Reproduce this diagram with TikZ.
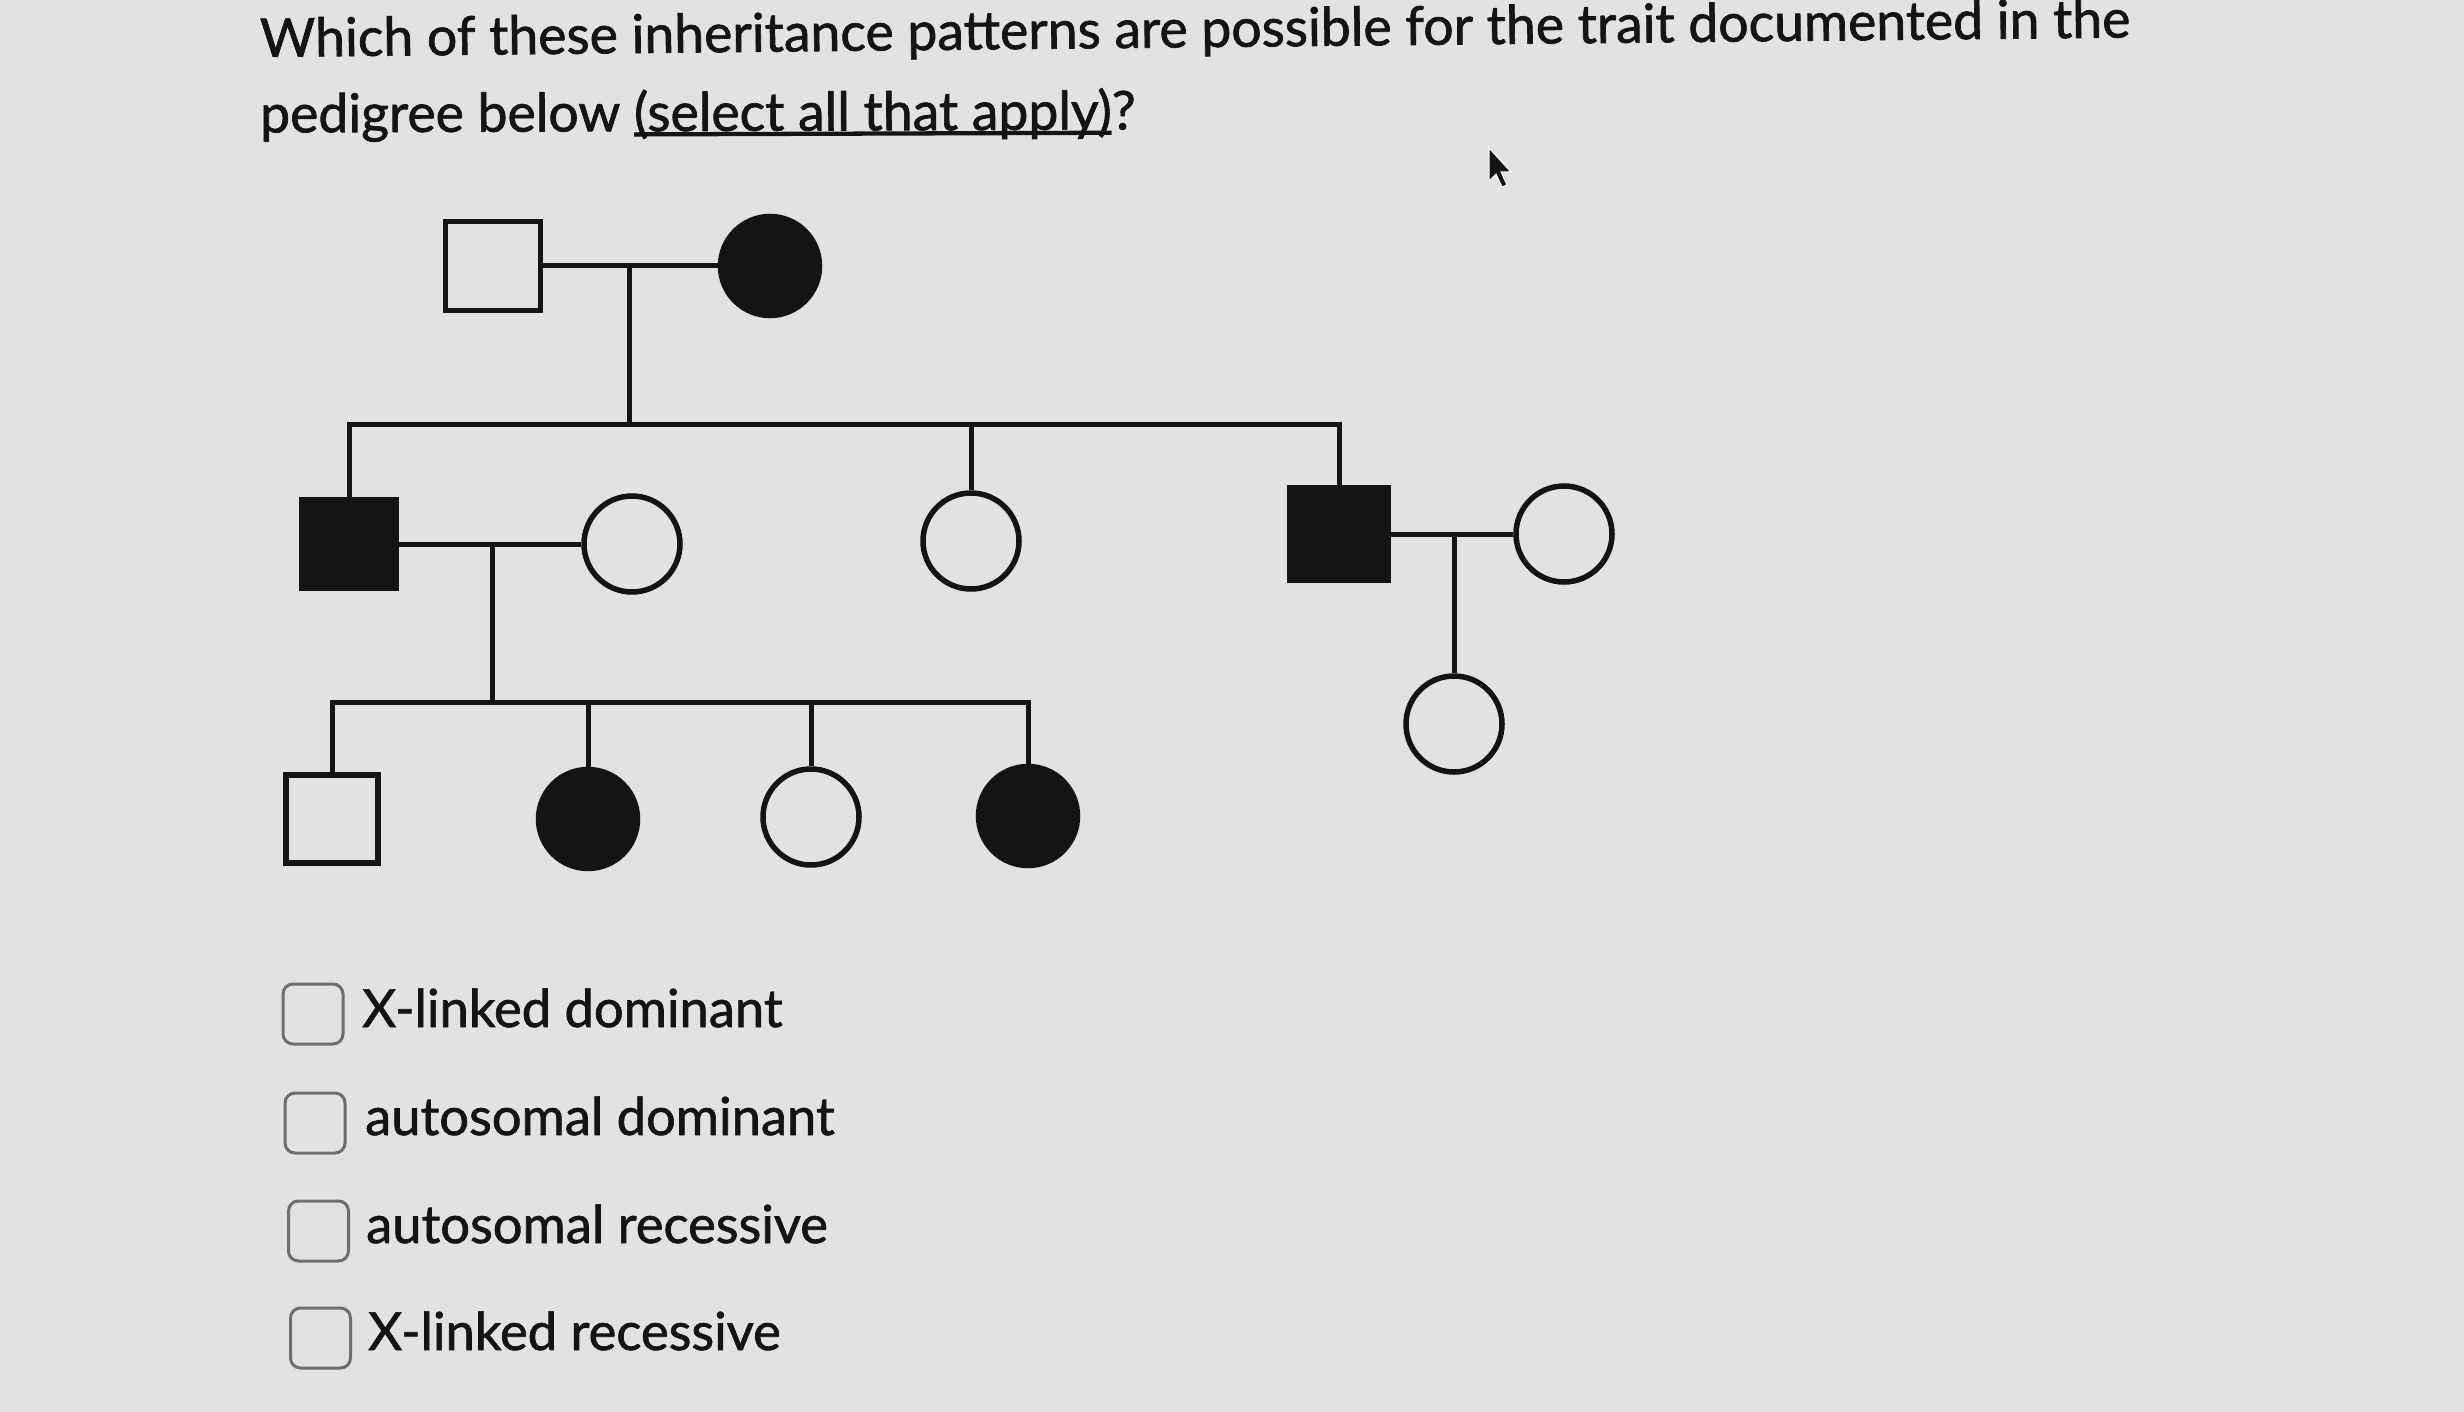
\documentclass[tikz,border=0pt]{standalone}
\usepackage{fontspec}
\setmainfont{Lato}[FakeBold=1.3]
\definecolor{ink}{HTML}{141414}
\definecolor{boxgray}{HTML}{6E6E6E}
\definecolor{bg}{HTML}{E2E2E2}
\newcommand\myul[1]{\setbox0\hbox{#1}\rlap{\rule[-0.1em]{\wd0}{0.08em}}\box0}
\begin{document}
\begin{tikzpicture}[x=1pt,y=-1pt,
  ped/.style={draw=ink, line width=5.5pt, inner sep=0pt},
  male/.style={ped, rectangle, minimum width=95pt, minimum height=89pt},
  female/.style={ped, circle, minimum size=96pt},
  aff/.style={fill=ink},
  link/.style={draw=ink, line width=5pt},
  cbox/.style={draw=boxgray, line width=3pt, rounded corners=10pt, minimum size=60pt, inner sep=0pt},
  lbl/.style={anchor=base west, inner sep=0pt, text=ink, font=\fontsize{52.5}{62}\selectfont},
  qtitle/.style={anchor=base west, inner sep=0pt, text=ink, font=\fontsize{53.5}{64}\selectfont}]
\useasboundingbox (0,0) rectangle (2464,1412);
\fill[bg] (0,0) rectangle (2464,1412);

% question
\node[qtitle, rotate=0.6] (q1) at (260,57) {Which of these inheritance patterns are possible for the trait documented in the};
\node[qtitle, rotate=0.2] (q2) at (260,132.5) {pedigree below \myul{(select all that apply)}?};

% generation I
\node[male] (I1) at (493,266) {};
\node[female,aff,minimum size=99pt] (I2) at (770,266) {};
\draw[link] (I1.east) -- (I2.west);
\coordinate (d1) at (629,266);
\coordinate (s1) at (629,424);
\draw[link] (d1) -- (s1);

% generation II
\node[male,aff] (II1) at (349,544) {};
\node[female] (II2) at (632,544) {};
\node[female] (II3) at (971,541) {};
\node[male,aff,minimum width=99pt,minimum height=92pt] (II4) at (1339,534) {};
\node[female] (II5) at (1564,534) {};
\draw[link] (II1.north) -- (II1.north |- s1) -- (II4.north |- s1) -- (II4.north);
\draw[link] (II3.north |- s1) -- (II3.north);
\draw[link] (II1.east) -- (II2.west);
\draw[link] (II4.east) -- (II5.west);
\coordinate (d2) at (492,544);
\coordinate (s2) at (492,702);
\draw[link] (d2) -- (s2);
\coordinate (d3) at (1454,534);

% generation III
\node[male,minimum width=92pt,minimum height=88pt] (III1) at (332,819) {};
\node[female,aff,minimum size=99pt] (III2) at (588,819) {};
\node[female] (III3) at (811,817) {};
\node[female,aff,minimum size=99pt] (III4) at (1028,816) {};
\node[female] (III5) at (1454,724) {};
\draw[link] (d3) -- (III5.north);
\draw[link] (III1.north) -- (III1.north |- s2) -- (III4.north |- s2) -- (III4.north);
\draw[link] (III2.north |- s2) -- (III2.north);
\draw[link] (III3.north |- s2) -- (III3.north);

% answer options
\node[cbox] (cb1) at (313,1014) {};
\node[cbox] (cb2) at (315,1123) {};
\node[cbox] (cb3) at (318.5,1231) {};
\node[cbox] (cb4) at (320.5,1338) {};
\node[lbl] (l1) at (362,1027) {X-linked dominant};
\node[lbl] (l2) at (365,1135) {autosomal dominant};
\node[lbl] (l3) at (366,1243) {autosomal recessive};
\node[lbl] (l4) at (368,1350) {X-linked recessive};

% mouse pointer
\fill[ink, draw=white, line width=1pt] (1489,148) -- (1489,181) -- (1496,174) -- (1502,187) -- (1507,185) -- (1501,172) -- (1511,172) -- cycle;
\end{tikzpicture}
\end{document}
